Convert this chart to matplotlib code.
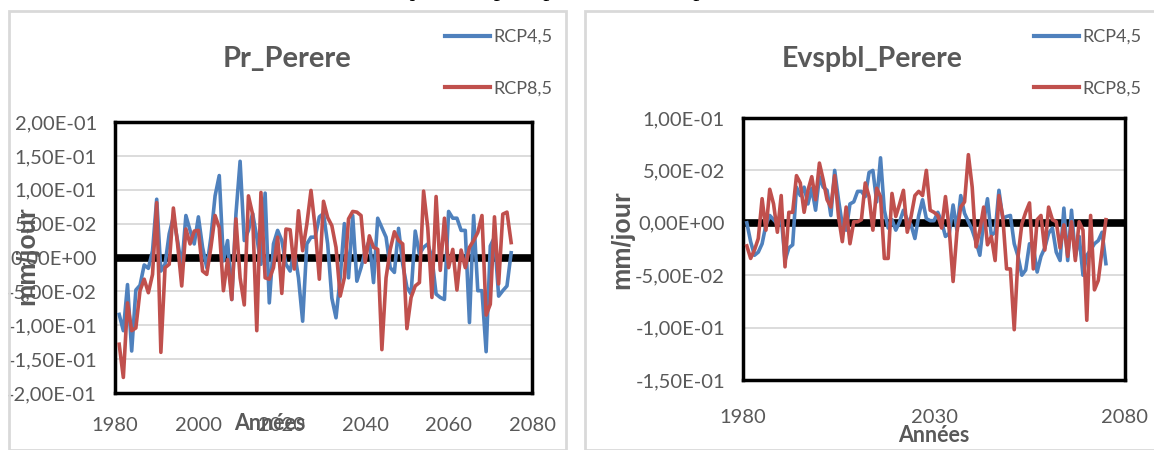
import matplotlib
matplotlib.use("Agg")
import matplotlib.pyplot as plt
from matplotlib.patches import Rectangle
from matplotlib.ticker import FuncFormatter, MultipleLocator

# années 1981-2075
years = list(range(1981, 2076))

pr_rcp45 = [
    -0.084, -0.108, -0.040, -0.138, -0.048, -0.041, -0.011, -0.016, 0.010, 0.086,
    -0.020, -0.010, 0.035, 0.060, 0.025, -0.015, 0.062, 0.040, 0.020, 0.060,
    0.015, -0.015, 0.030, 0.091, 0.121, -0.005, 0.025, -0.062, 0.064, 0.142,
    0.025, 0.040, 0.065, 0.030, -0.010, 0.095, -0.067, 0.020, 0.040, 0.025,
    -0.010, -0.020, 0.010, -0.030, -0.094, 0.020, 0.030, 0.030, 0.060, 0.065,
    0.020, -0.060, -0.089, -0.030, 0.050, -0.030, 0.062, -0.035, -0.015, 0.010,
    0.025, -0.037, 0.058, 0.044, 0.030, -0.015, -0.022, 0.043, -0.010, -0.044,
    -0.054, 0.039, 0.005, 0.015, 0.020, 0.000, -0.054, -0.059, -0.062, 0.068,
    0.058, 0.058, 0.040, 0.040, -0.096, 0.062, -0.049, -0.049, -0.139, 0.017,
    0.030, -0.057, -0.049, -0.042, 0.007,
]
pr_rcp85 = [
    -0.128, -0.177, -0.067, -0.108, -0.104, -0.049, -0.032, -0.052, -0.025, 0.081,
    -0.140, -0.015, -0.010, 0.073, 0.020, -0.042, 0.042, 0.020, 0.039, 0.040,
    -0.020, -0.025, 0.015, 0.062, 0.044, -0.049, -0.003, -0.062, 0.057, -0.030,
    -0.070, 0.091, 0.064, -0.108, 0.096, -0.030, -0.032, -0.015, 0.030, -0.053,
    0.042, 0.041, -0.017, 0.069, 0.010, 0.049, 0.099, 0.044, -0.032, 0.083,
    0.059, 0.047, 0.015, -0.057, -0.030, 0.057, 0.068, 0.067, 0.062, -0.007,
    0.032, 0.015, 0.012, -0.136, -0.030, 0.012, 0.038, 0.025, 0.020, -0.105,
    -0.059, -0.042, -0.037, 0.098, 0.044, -0.059, 0.090, -0.019, 0.058, -0.015,
    0.012, -0.048, 0.011, -0.015, 0.015, 0.025, 0.037, 0.062, -0.085, -0.069,
    0.060, -0.039, 0.064, 0.067, 0.022,
]
ev_rcp45 = [
    0.000, -0.018, -0.031, -0.028, -0.020, -0.002, 0.007, 0.003, -0.001, 0.006,
    -0.036, -0.024, -0.021, 0.034, 0.026, 0.034, 0.018, 0.033, 0.012, 0.044,
    0.034, 0.031, 0.007, 0.050, 0.022, -0.002, -0.007, 0.018, 0.020, 0.030,
    0.030, 0.025, 0.048, 0.050, 0.020, 0.062, 0.012, -0.005, 0.003, -0.007,
    0.001, 0.012, 0.003, -0.002, -0.015, 0.007, 0.022, 0.004, 0.002, 0.002,
    0.010, 0.001, -0.013, -0.010, 0.017, -0.007, 0.026, 0.009, 0.001, -0.007,
    -0.018, -0.031, 0.001, 0.023, -0.012, -0.009, 0.031, 0.004, 0.006, 0.007,
    -0.020, -0.032, -0.050, -0.045, -0.020, -0.023, -0.047, -0.032, -0.024, -0.010,
    -0.005, -0.028, -0.036, 0.014, -0.036, 0.012, -0.032, -0.013, -0.050, -0.031,
    -0.026, -0.020, -0.017, -0.009, -0.039,
]
ev_rcp85 = [
    -0.022, -0.034, -0.026, -0.015, 0.023, -0.007, 0.032, 0.018, -0.009, 0.026,
    -0.042, 0.010, 0.010, 0.045, 0.038, 0.010, 0.031, 0.044, 0.022, 0.057,
    0.041, 0.022, 0.015, 0.045, 0.006, -0.018, 0.015, -0.020, 0.001, 0.001,
    0.003, 0.038, 0.025, -0.007, 0.033, 0.025, -0.034, -0.034, 0.028, 0.006,
    0.018, 0.031, -0.009, 0.006, 0.026, 0.030, 0.026, 0.050, 0.012, 0.010,
    0.007, -0.005, 0.025, -0.007, -0.056, -0.009, 0.015, 0.020, 0.065, 0.034,
    -0.023, -0.007, 0.015, -0.021, -0.013, -0.036, 0.026, 0.006, -0.044, -0.044,
    -0.102, -0.032, -0.001, 0.010, 0.019, -0.044, 0.003, 0.007, -0.026, 0.015,
    0.003, 0.001, -0.024, -0.002, -0.032, 0.001, -0.036, 0.001, -0.007, -0.093,
    0.007, -0.064, -0.055, -0.026, 0.003,
]

titles = ["Pr_Perere", "Evspbl_Perere"]
labels = ["RCP4,5", "RCP8,5"]

BLUE = "#4f81bd"
RED = "#c0504d"
GREY = "#595959"
FONT = ["Lato", "DejaVu Sans"]
W, H = 1154, 450


def fx(px):
    return px / W


def fy(py):
    return 1 - py / H


def sci_fmt(v, pos):
    return f"{v:.2E}".replace(".", ",")


def draw_panel(fig, rect, s45, s85, ylim, xticks, title, title_x, title_size,
               leg_x, xlab_xy, ylab_xy, xpad):
    ax = fig.add_axes(rect)
    ax.plot(years, s45, color=BLUE, lw=2.6, label=labels[0], zorder=3)
    ax.plot(years, s85, color=RED, lw=2.6, label=labels[1], zorder=3)
    ax.axhline(0, color="black", lw=5.5, zorder=2)
    ax.set_xlim(1980, 2080)
    ax.set_ylim(*ylim)
    ax.yaxis.set_major_locator(MultipleLocator(0.05))
    ax.yaxis.set_major_formatter(FuncFormatter(sci_fmt))
    ax.set_xticks(xticks)
    ax.grid(axis="y", color="#d9d9d9", lw=1.3, zorder=0)
    for sp in ax.spines.values():
        sp.set_linewidth(2.5)
        sp.set_color("black")
    ax.tick_params(length=0, labelsize=14.5, labelcolor=GREY)
    ax.tick_params(axis="y", pad=13)
    ax.tick_params(axis="x", pad=xpad)
    for lab in ax.get_xticklabels() + ax.get_yticklabels():
        lab.set_family(FONT)

    fig.text(fx(title_x), fy(59), title, ha="center", va="center", fontsize=title_size,
             fontweight="bold", color=GREY, family=FONT)
    fig.text(fx(xlab_xy[0]), fy(xlab_xy[1]), "Années", ha="center", va="center",
             fontsize=15.5, fontweight="bold", color=GREY, family=FONT)
    fig.text(fx(ylab_xy[0]), fy(ylab_xy[1]), "mm/jour", ha="center", va="center",
             rotation=90, fontsize=18, fontweight="bold", color=GREY,
             family=["Liberation Sans", "DejaVu Sans"])

    leg = ax.legend(loc="upper left", bbox_to_anchor=(fx(leg_x), fy(29)),
                    bbox_transform=fig.transFigure, frameon=False,
                    handlelength=2.5, handletextpad=0.2, labelspacing=1.95,
                    borderpad=0, borderaxespad=0,
                    prop={"family": FONT, "size": 13})
    for t in leg.get_texts():
        t.set_color(GREY)
    for l in leg.get_lines():
        l.set_linewidth(3)
    return ax


fig = plt.figure(figsize=(W / 100, H / 100), dpi=100)

# cadres gris des deux graphiques
fig.patches.append(Rectangle((fx(9), 0), fx(566 - 9), fy(11), transform=fig.transFigure,
                             fill=False, edgecolor="#d9d9d9", lw=2))
fig.patches.append(Rectangle((fx(585), 0), fx(1160 - 585), fy(11), transform=fig.transFigure,
                             fill=False, edgecolor="#d9d9d9", lw=2))

# légende du document, coupée en haut (seuls les jambages restent visibles)
fig.text(0.0, fy(-4), "ce scénario montre les anomalies climatiques des précipitations et évaporation à la Sous-bassin de Pérèré.",
         ha="left", va="baseline", fontsize=17.8, family=["Liberation Serif", "DejaVu Serif"])

draw_panel(fig, [fx(115), fy(393), fx(532 - 115), (393 - 122) / H],
           pr_rcp45, pr_rcp85, (-0.2, 0.2), [1980, 2000, 2020, 2040, 2060, 2080],
           titles[0], 287, 21, 445, (270, 424), (27, 256), 17)
draw_panel(fig, [fx(743), fy(380), fx(1125 - 743), (380 - 118) / H],
           ev_rcp45, ev_rcp85, (-0.15, 0.1), [1980, 2030, 2080],
           titles[1], 872, 20.5, 1034, (934, 435), (622, 240), 21)

fig.savefig("out.png", dpi=100)
